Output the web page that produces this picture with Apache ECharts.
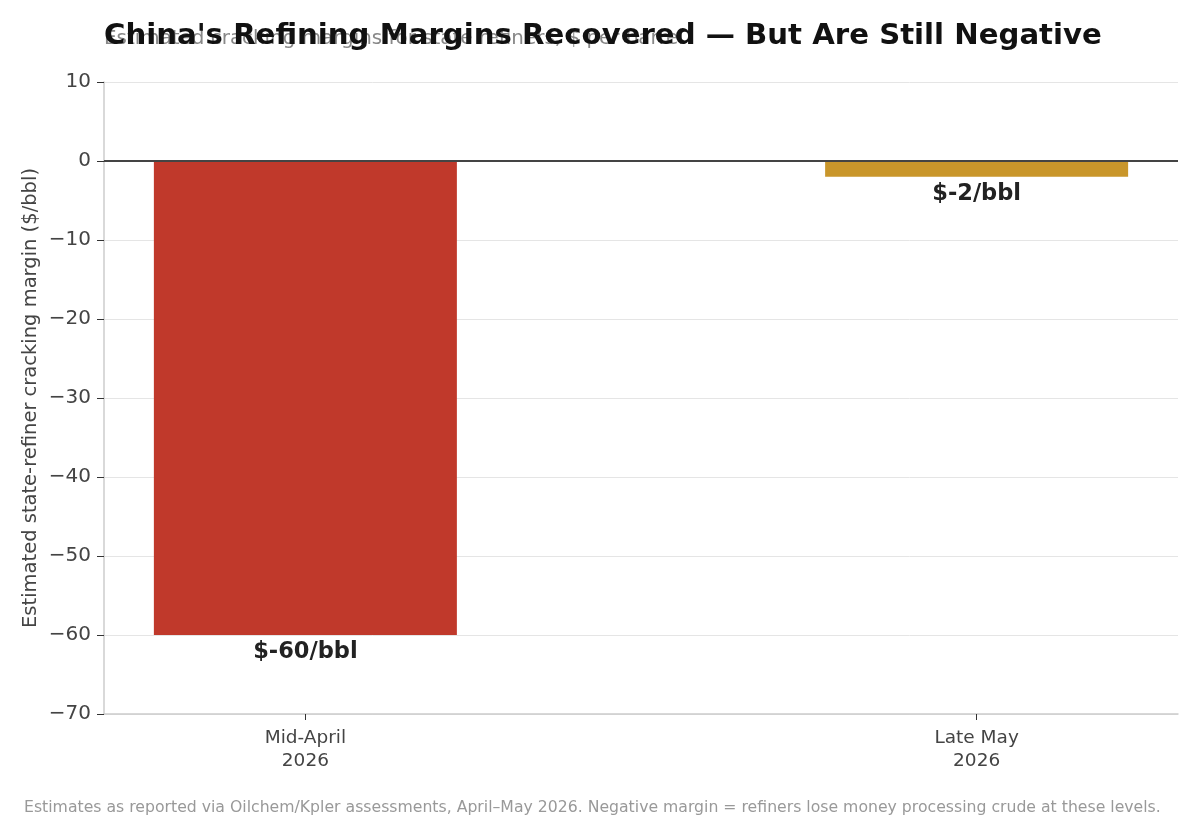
<!DOCTYPE html>
<html>
<head>
<meta charset="utf-8">
<script src="https://cdn.jsdelivr.net/npm/echarts@6/dist/echarts.min.js"></script>
<style>
  html, body { margin: 0; padding: 0; background: #fff; }
  #main { width: 1200px; height: 825px; }
</style>
</head>
<body>
<div id="main"></div>
<script>
// data
var categories = ['Mid-April\n2026', 'Late May\n2026'];
var positions = [0, 1];
var margins = [-60, -2];
var barColors = ['#c0392b', '#c9962b'];
var yTicks = [-70, -60, -50, -40, -30, -20, -10, 0, 10];

var font = 'DejaVu Sans';
var barData = [];
for (var i = 0; i < margins.length; i++) {
  barData.push({
    value: [positions[i], margins[i]],
    itemStyle: { color: barColors[i] }
  });
}

var option = {
  animation: false,
  backgroundColor: '#fff',
  title: [
    {
      text: 'Estimated cracking margins for state refiners, $ per barrel',
      left: 104, top: 29, padding: 0,
      textStyle: { fontFamily: font, fontSize: 19.9, fontWeight: 'normal', color: '#888' }
    },
    {
      text: "China's Refining Margins Recovered \u2014 But Are Still Negative",
      left: 104, top: 22, padding: 0,
      textStyle: { fontFamily: font, fontSize: 29.2, fontWeight: 'bold', color: '#111' }
    },
    {
      text: 'Estimates as reported via Oilchem/Kpler assessments, April\u2013May 2026. Negative margin = refiners lose money processing crude at these levels.',
      left: 24, top: 800, padding: 0,
      textStyle: { fontFamily: font, fontSize: 15.7, fontWeight: 'normal', color: '#999' }
    }
  ],
  grid: { left: 104, right: 22, top: 82, bottom: 111 },
  xAxis: {
    type: 'value',
    min: -0.3, max: 1.3,
    splitLine: { show: false },
    axisLine: { show: true, onZero: false, lineStyle: { color: '#ccc', width: 1.5 } },
    axisTick: { show: true, customValues: positions, length: 6, lineStyle: { color: '#333' } },
    axisLabel: {
      customValues: positions,
      fontFamily: font, fontSize: 18.5, color: '#444', lineHeight: 23, margin: 13,
      formatter: function (v) { return categories[Math.round(v)]; }
    }
  },
  yAxis: {
    type: 'value',
    min: yTicks[0], max: yTicks[yTicks.length - 1], interval: 10,
    name: 'Estimated state-refiner cracking margin ($/bbl)',
    nameLocation: 'middle', nameGap: 63, nameMoveOverlap: false,
    nameTextStyle: { fontFamily: font, fontSize: 19.5, color: '#444' },
    axisLine: { show: true, onZero: false, lineStyle: { color: '#ccc', width: 1.5 } },
    axisTick: { show: true, length: 7, lineStyle: { color: '#333' } },
    axisLabel: {
      fontFamily: font, fontSize: 20, color: '#444', margin: 13,
      formatter: function (v) { return v < 0 ? '\u2212' + Math.abs(v) : String(v); }
    },
    splitLine: { show: true, lineStyle: { color: '#e5e5e5', width: 1 } }
  },
  series: [
    {
      type: 'bar',
      data: barData,
      barWidth: 303,
      label: {
        show: true,
        position: 'bottom',
        distance: 6,
        fontFamily: font, fontSize: 22.5, fontWeight: 'bold', color: '#222',
        formatter: function (p) { return '$' + p.value[1] + '/bbl'; }
      },
      markLine: {
        silent: true,
        symbol: 'none',
        label: { show: false },
        lineStyle: { color: '#444', width: 2, type: 'solid' },
        data: [{ yAxis: 0 }]
      }
    }
  ]
};

var myChart = echarts.init(document.getElementById('main'));
myChart.setOption(option, true);
</script>
</body>
</html>
